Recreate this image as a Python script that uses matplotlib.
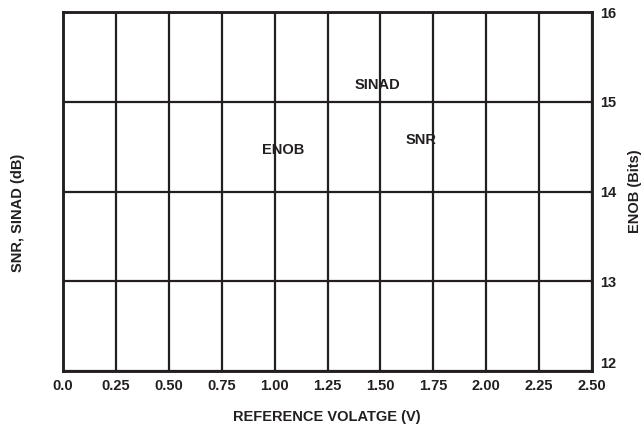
import numpy as np
import matplotlib.pyplot as plt
import matplotlib.transforms as mtransforms

plt.rcParams['font.family'] = ['Liberation Sans', 'DejaVu Sans']
plt.rcParams['font.weight'] = 'bold'

ink = '#231f20'
fs = 10.5

# axis data
x_ticks = [0.0, 0.25, 0.50, 0.75, 1.00, 1.25, 1.50, 1.75, 2.00, 2.25, 2.50]
x_labels = ['0.0', '0.25', '0.50', '0.75', '1.00', '1.25', '1.50', '1.75', '2.00', '2.25', '2.50']
enob_ticks = [12, 13, 14, 15, 16]

# curve labels (position in V / Bits)
label_names = ['SINAD', 'ENOB', 'SNR']
label_x = [1.485, 1.04, 1.69]
label_y = [15.19, 14.46, 14.57]

fig = plt.figure(figsize=(6.42, 4.29), dpi=100)
ax = fig.add_axes([63/642, 1 - 371/429, 529/642, 359/429])
ax2 = ax.twinx()

ax.set_xlim(0, 2.5)
ax2.set_ylim(12, 16)
ax.set_ylim(12, 16)

ax.set_xticks(x_ticks)
ax.set_xticklabels(x_labels, fontsize=fs, fontweight='bold', color=ink)
ax.tick_params(axis='x', length=0, pad=6)
ax.set_yticks(enob_ticks)
ax.tick_params(axis='y', length=0, labelleft=False)

ax2.set_yticks(enob_ticks)
ax2.set_yticklabels([str(t) for t in enob_ticks], fontsize=fs, fontweight='bold', color=ink)
ax2.tick_params(axis='y', length=0, pad=6)
# bottom label sits a little above the frame in the reference
lab12 = ax2.yaxis.get_major_ticks()[0].label2
lab12.set_transform(lab12.get_transform() +
                    mtransforms.ScaledTranslation(0, 6/72, fig.dpi_scale_trans))

ax.grid(True, color=ink, linewidth=1.6)
for a in (ax, ax2):
    for s in a.spines.values():
        s.set_color(ink)
        s.set_linewidth(1.8)

for name, xv, yv in zip(label_names, label_x, label_y):
    ax2.text(xv, yv, name, ha='center', va='center', fontsize=fs,
             fontweight='bold', color=ink)

fig.text(327/642, 1 - 417/429, 'REFERENCE VOLATGE (V)', ha='center', va='center',
         fontsize=fs, fontweight='bold', color=ink)
fig.text(18/642, 1 - 213/429, 'SNR, SINAD (dB)', ha='center', va='center',
         rotation=90, fontsize=fs, fontweight='bold', color=ink)
fig.text(635/642, 1 - 191/429, 'ENOB (Bits)', ha='center', va='center',
         rotation=90, fontsize=fs, fontweight='bold', color=ink)

fig.savefig('out.png', dpi=100)
